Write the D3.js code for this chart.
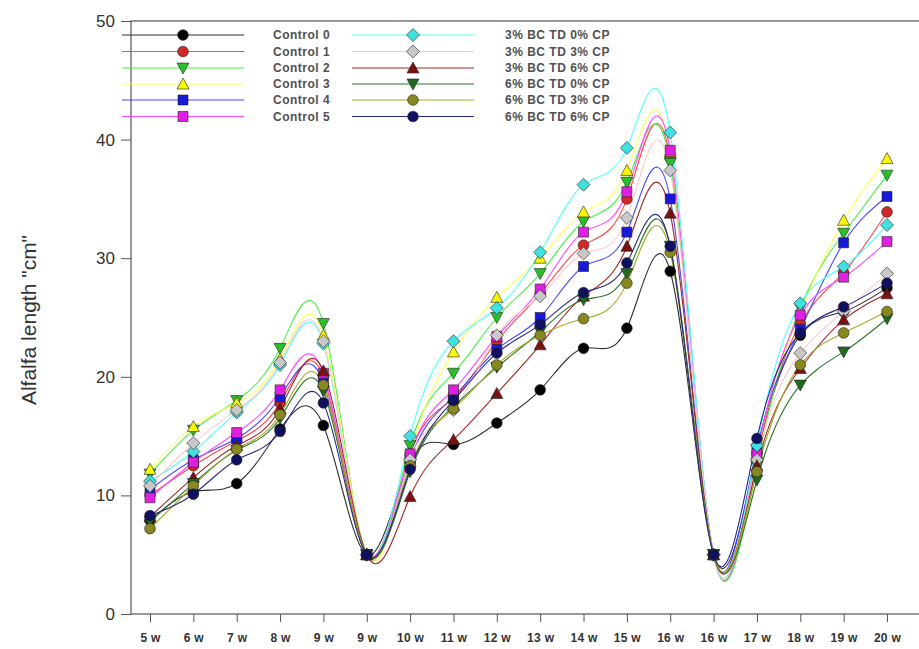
<!DOCTYPE html>
<html>
<head>
<meta charset="utf-8">
<script src="https://cdn.jsdelivr.net/npm/d3@7"></script>
<style>
  body { margin: 0; background: #fff; }
  svg { display: block; font-family: 'Liberation Sans', Arial, sans-serif; }
</style>
</head>
<body>
<svg id="chart" width="919" height="649"></svg>
<script>
const weeks = ['5 w', '6 w', '7 w', '8 w', '9 w', '9 w ', '10 w', '11 w', '12 w', '13 w', '14 w', '15 w', '16 w', '16 w ', '17 w', '18 w', '19 w', '20 w']
const yTicks = [0, 10, 20, 30, 40, 50]

const seriesNames = ['Control 0', 'Control 1', 'Control 2', 'Control 3', 'Control 4', 'Control 5',
  '3% BC TD 0% CP', '3% BC TD 3% CP', '3% BC TD 6% CP', '6% BC TD 0% CP', '6% BC TD 3% CP', '6% BC TD 6% CP']

const control0 = [7.9, 10.3, 11.0, 15.6, 15.9, 5.0, 12.8, 14.3, 16.1, 18.9, 22.4, 24.1, 28.9, 5.0, 13.5, 23.5, 25.5, 27.5]
const control1 = [10.0, 12.5, 14.6, 17.8, 20.0, 5.0, 13.5, 18.2, 23.0, 27.0, 31.1, 35.0, 38.5, 5.0, 13.0, 24.5, 28.8, 33.9]
const control2 = [11.8, 15.5, 18.0, 22.4, 24.5, 5.0, 14.2, 20.3, 25.0, 28.7, 33.1, 36.4, 38.0, 5.0, 12.5, 25.8, 32.1, 37.0]
const control3 = [12.2, 15.8, 17.8, 21.5, 23.5, 5.0, 13.5, 22.1, 26.7, 30.0, 33.9, 37.4, 39.0, 5.0, 13.5, 25.5, 33.2, 38.4]
const control4 = [10.5, 13.0, 14.8, 18.3, 19.5, 5.0, 13.0, 18.3, 22.3, 25.0, 29.3, 32.2, 35.0, 5.0, 14.0, 24.0, 31.3, 35.2]
const control5 = [9.8, 12.8, 15.3, 18.9, 20.3, 5.0, 13.5, 18.9, 23.4, 27.4, 32.2, 35.6, 39.1, 5.0, 13.5, 25.2, 28.4, 31.4]
const bc3cp0 = [11.2, 13.7, 17.0, 21.0, 22.8, 5.0, 15.0, 23.0, 25.8, 30.5, 36.2, 39.3, 40.6, 5.0, 14.2, 26.2, 29.3, 32.8]
const bc3cp3 = [10.8, 14.4, 17.2, 21.2, 23.0, 5.0, 13.0, 17.2, 23.5, 26.8, 30.4, 33.4, 37.4, 5.0, 13.0, 22.0, 25.5, 28.7]
const bc3cp6 = [8.2, 11.5, 14.2, 17.3, 20.5, 5.0, 9.9, 14.7, 18.6, 22.7, 26.8, 31.0, 33.8, 5.0, 12.5, 20.7, 24.8, 27.0]
const bc6cp0 = [7.8, 11.0, 13.8, 16.5, 18.8, 5.0, 12.0, 17.5, 20.8, 23.8, 26.5, 28.7, 31.0, 5.0, 11.3, 19.3, 22.1, 24.9]
const bc6cp3 = [7.2, 10.8, 13.9, 16.8, 19.3, 5.0, 12.5, 17.3, 21.0, 23.5, 24.9, 27.9, 30.5, 5.0, 12.0, 21.0, 23.7, 25.5]
const bc6cp6 = [8.3, 10.1, 13.0, 15.4, 17.8, 5.0, 12.2, 18.0, 22.0, 24.4, 27.1, 29.6, 31.0, 5.0, 14.8, 23.7, 25.9, 27.9]

const seriesValues = [control0, control1, control2, control3, control4, control5,
  bc3cp0, bc3cp3, bc3cp6, bc6cp0, bc6cp3, bc6cp6]

const lineColors = ['#303030', '#ff4848', '#48f048', '#ffff50', '#4848ff', '#ff48ff',
  '#50ffff', '#ffc8c8', '#a02828', '#287828', '#a8a828', '#282888']
const fillColors = ['#000000', '#d02828', '#28c028', '#f8f800', '#1818d8', '#e020e0',
  '#40e0e0', '#c8c8c8', '#7a1010', '#1e6a1e', '#888820', '#101060']
const shapes = ['circle', 'circle', 'tdown', 'tup', 'square', 'square',
  'diamond', 'diamond', 'tup', 'tdown', 'circle', 'circle']

const svg = d3.select('#chart')
const plotLeft = 131
const plotTop = 21
const plotBottom = 614

const x = d3.scalePoint().domain(weeks).range([150, 887])
const y = d3.scaleLinear().domain([0, 50]).range([plotBottom, plotTop])

// Symbol paths, centered on 0,0
function symbolPath (shape) {
  switch (shape) {
    case 'circle': return d3.symbol(d3.symbolCircle, 90)()
    case 'square': return 'M-5,-5H5V5H-5Z'
    case 'diamond': return 'M0,-6.5L6.5,0L0,6.5L-6.5,0Z'
    case 'tup': return 'M0,-6L6,5H-6Z'
    case 'tdown': return 'M0,6L6,-5H-6Z'
  }
}

// Frame
svg.append('rect')
  .attr('x', plotLeft).attr('y', plotTop)
  .attr('width', 919 - plotLeft + 10).attr('height', plotBottom - plotTop)
  .attr('fill', 'none').attr('stroke', '#555').attr('stroke-width', 1.2)

// Y axis
const yAxis = svg.append('g')
  .attr('transform', `translate(${plotLeft},0)`)
  .call(d3.axisLeft(y).tickValues(yTicks).tickSize(10).tickPadding(6))
yAxis.select('.domain').remove()
yAxis.selectAll('line').attr('stroke', '#555')
yAxis.selectAll('text').attr('font-size', 17).attr('fill', '#333')

// X axis
const xAxis = svg.append('g')
  .attr('transform', `translate(0,${plotBottom})`)
  .call(d3.axisBottom(x).tickSize(8).tickPadding(11))
xAxis.select('.domain').remove()
xAxis.selectAll('line').attr('stroke', '#555')
xAxis.selectAll('text')
  .attr('font-size', 12).attr('font-weight', 'bold')
  .attr('letter-spacing', 0.3).attr('fill', '#333')

// Y title
svg.append('text')
  .attr('transform', 'translate(36,320) rotate(-90)')
  .attr('text-anchor', 'middle')
  .attr('font-size', 21)
  .attr('fill', '#333')
  .text('Alfalfa length "cm"')

const line = d3.line()
  .x((d, i) => x(weeks[i]))
  .y(d => y(d))
  .curve(d3.curveNatural)

const plot = svg.append('g')

seriesValues.forEach((vals, s) => {
  plot.append('path')
    .attr('d', line(vals))
    .attr('fill', 'none')
    .attr('stroke', lineColors[s])
    .attr('stroke-width', 1.1)
})

seriesValues.forEach((vals, s) => {
  plot.selectAll(null)
    .data(vals)
    .join('path')
    .attr('d', symbolPath(shapes[s]))
    .attr('transform', (d, i) => `translate(${x(weeks[i])},${y(d)})`)
    .attr('fill', fillColors[s])
    .attr('stroke', '#222')
    .attr('stroke-width', 0.6)
})

// Legend
const legend = svg.append('g')
const rowY = [35, 51.5, 68, 84, 100, 116.5]
seriesNames.forEach((name, s) => {
  const col = s < 6 ? 0 : 1
  const ry = rowY[s % 6]
  const x0 = col === 0 ? 122 : 352
  const x1 = col === 0 ? 244 : 474
  const mx = col === 0 ? 183 : 413
  const tx = col === 0 ? 273 : 505
  legend.append('line')
    .attr('x1', x0).attr('x2', x1).attr('y1', ry).attr('y2', ry)
    .attr('stroke', lineColors[s]).attr('stroke-width', 1.1)
  legend.append('path')
    .attr('d', symbolPath(shapes[s]))
    .attr('transform', `translate(${mx},${ry})`)
    .attr('fill', fillColors[s])
    .attr('stroke', '#222')
    .attr('stroke-width', 0.6)
  legend.append('text')
    .attr('x', tx).attr('y', ry + 4)
    .attr('font-size', 12)
    .attr('font-weight', 'bold')
    .attr('letter-spacing', 0.5)
    .attr('fill', '#505050')
    .text(name)
})
</script>
</body>
</html>
